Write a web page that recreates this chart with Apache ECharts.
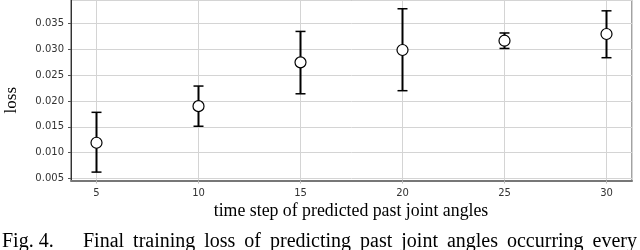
<!DOCTYPE html>
<html>
<head>
<meta charset="utf-8">
<script src="https://cdn.jsdelivr.net/npm/echarts@6/dist/echarts.min.js"></script>
<style>
html,body{margin:0;padding:0;background:#fff;}
#chart{width:640px;height:250px;}
</style>
</head>
<body>
<div id="chart"></div>
<script>
// Data
const timeSteps = [5, 10, 15, 20, 25, 30];
const lossMean  = [0.0119, 0.0190, 0.0275, 0.0299, 0.0317, 0.0330];
const lossLow   = [0.0062, 0.0151, 0.0214, 0.0220, 0.0302, 0.0284];
const lossHigh  = [0.0178, 0.0229, 0.0335, 0.0379, 0.0332, 0.0375];

const xTitle = 'time step of predicted past joint angles';
const yTitle = 'loss';
const captionLead = 'Fig. 4.';
const captionWords = ['Final', 'training', 'loss', 'of', 'predicting', 'past', 'joint', 'angles', 'occurring', 'every'];

const chart = echarts.init(document.getElementById('chart'), null, {renderer: 'canvas'});

const meanData = timeSteps.map((t, i) => [t, lossMean[i]]);
const errData = timeSteps.map((t, i) => [t, lossLow[i], lossHigh[i]]);

// justified caption line: distribute words between start and end x
const capFont = '20px "Liberation Serif"';
const capStart = 83, capEnd = 637, capY = 242;
const mctx = document.createElement('canvas').getContext('2d');
mctx.font = capFont;
const widths = captionWords.map(w => mctx.measureText(w).width);
const totalW = widths.reduce((a, b) => a + b, 0);
const gap = (capEnd - capStart - totalW) / (captionWords.length - 1);
let cx = capStart;
const captionGraphics = captionWords.map((w, i) => {
  const g = {type: 'text', x: cx, y: capY,
    style: {text: w, font: capFont, fill: '#000', align: 'left', verticalAlign: 'middle'}};
  cx += widths[i] + gap;
  return g;
});

chart.setOption({
  animation: false,
  backgroundColor: '#fff',
  grid: {
    left: 71, right: 8, top: 0, bottom: 69.5,
    show: true, borderColor: '#444', borderWidth: 1, backgroundColor: 'transparent'
  },
  xAxis: {
    type: 'value',
    min: 3.75, max: 31.25,
    splitNumber: 5,
    axisLine: {show: true, onZero: false, lineStyle: {color: '#777', width: 2}},
    axisTick: {show: true, length: 3, lineStyle: {color: '#bbb'}},
    axisLabel: {showMinLabel: false, showMaxLabel: false, fontFamily: 'DejaVu Sans', fontSize: 10, color: '#333', margin: 8},
    splitLine: {show: true, lineStyle: {color: '#d4d4d4', width: 1}}
  },
  yAxis: {
    type: 'value',
    min: 0.00457, max: 0.0396,
    splitNumber: 7,
    axisLine: {show: true, lineStyle: {color: '#333', width: 1}},
    axisTick: {show: true, length: 3, lineStyle: {color: '#555'}},
    axisLabel: {showMinLabel: false, showMaxLabel: false, fontFamily: 'DejaVu Sans', fontSize: 10, color: '#333', margin: 7,
      formatter: v => v.toFixed(3)},
    splitLine: {show: true, lineStyle: {color: '#d4d4d4', width: 1}}
  },
  series: [
    {
      type: 'custom',
      data: errData,
      z: 2,
      renderItem: function (params, api) {
        const x = api.value(0);
        const lo = api.coord([x, api.value(1)]);
        const hi = api.coord([x, api.value(2)]);
        const hw = 5;
        return {
          type: 'group',
          children: [
            {type: 'line', shape: {x1: lo[0], y1: lo[1], x2: hi[0], y2: hi[1]}, style: {stroke: '#000', lineWidth: 2}},
            {type: 'line', shape: {x1: lo[0] - hw, y1: lo[1], x2: lo[0] + hw, y2: lo[1]}, style: {stroke: '#000', lineWidth: 1.5}},
            {type: 'line', shape: {x1: hi[0] - hw, y1: hi[1], x2: hi[0] + hw, y2: hi[1]}, style: {stroke: '#000', lineWidth: 1.5}}
          ]
        };
      }
    },
    {
      type: 'scatter',
      data: meanData,
      z: 3,
      symbol: 'circle',
      symbolSize: 11,
      itemStyle: {color: '#fff', borderColor: '#000', borderWidth: 1.2, opacity: 1}
    }
  ],
  graphic: [
    {type: 'text', left: 3, top: 87, rotation: Math.PI / 2,
      style: {text: yTitle, font: '17px "Liberation Serif"', fill: '#000'}},
    {type: 'text', x: 351, y: 211,
      style: {text: xTitle, font: '17.8px "Liberation Serif"', fill: '#000', align: 'center', verticalAlign: 'middle'}},
    {type: 'text', x: 2, y: capY,
      style: {text: captionLead, font: capFont, fill: '#000', align: 'left', verticalAlign: 'middle'}}
  ].concat(captionGraphics)
});
</script>
</body>
</html>
